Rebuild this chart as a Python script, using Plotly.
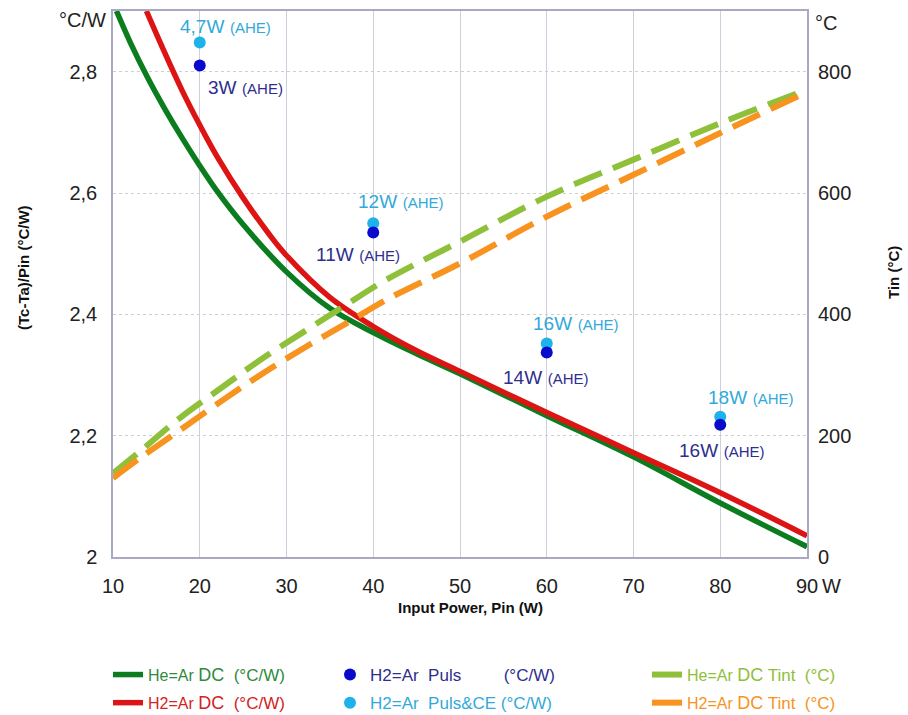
import plotly.graph_objects as go

# ---------------- data ----------------
he_dc_x = [10.4, 12, 14, 16, 18, 20, 22, 25, 30, 35, 40, 45, 50, 60, 70, 80, 90]
he_dc_y = [2.900, 2.848, 2.790, 2.738, 2.690, 2.645, 2.603, 2.548, 2.470, 2.410, 2.370, 2.335,
           2.302, 2.233, 2.165, 2.089, 2.017]

h2_dc_x = [13.85, 16, 18, 20, 22, 25, 28, 30, 35, 40, 45, 50, 60, 70, 80, 90]
h2_dc_y = [2.900, 2.830, 2.768, 2.712, 2.660, 2.592, 2.532, 2.497, 2.428, 2.380, 2.340, 2.306,
           2.238, 2.172, 2.106, 2.035]

tint_x = [10, 13.1, 17.7, 22.7, 27.3, 32.3, 36.9, 41.5, 50, 60, 70, 80, 89.2]
he_tint = [138, 174, 229, 281, 328, 374, 416, 457, 520, 594, 655, 715, 766]
h2_tint = [130, 163, 209, 259, 303, 347, 385, 424, 484, 561, 630, 699, 761]

puls_x = [20, 40, 60, 80]
puls_y = [2.81, 2.535, 2.337, 2.218]
pulsce_y = [2.848, 2.550, 2.352, 2.231]

puls_labels = ["3W", "11W", "14W", "16W"]
pulsce_labels = ["4,7W", "12W", "16W", "18W"]

x_ticks = [10, 20, 30, 40, 50, 60, 70, 80, 90]
y_ticks = [2, 2.2, 2.4, 2.6, 2.8]
y_ticktext = ["2", "2,2", "2,4", "2,6", "2,8"]
y2_ticks = [0, 200, 400, 600, 800]

# ---------------- styles ----------------
GREEN = "#0b7d1f"
RED = "#dd1414"
LGREEN = "#8fc03a"
ORANGE = "#f7931e"
NAVY = "#0a0acc"
LBLUE = "#1db2ea"
NAVY_T = "#2e2e8e"
LBLUE_T = "#32a9da"
GREEN_T = "#2f8a3c"
RED_T = "#d42222"
FONT = "Liberation Sans, Arial, sans-serif"

def lab(parts):
    return "".join(f'<span style="font-size:{s}px">{t}</span>' for t, s in parts)

fig = go.Figure()

fig.add_trace(go.Scatter(
    x=he_dc_x, y=he_dc_y, mode="lines", line=dict(color=GREEN, width=5.5, shape="spline", smoothing=1.0),
    name=lab([("He=Ar ", 16), ("DC", 18), ("\u00a0 (°C/W)", 17)]), legend="legend", legendgroup="a", legendrank=1))
fig.add_trace(go.Scatter(
    x=h2_dc_x, y=h2_dc_y, mode="lines", line=dict(color=RED, width=5.5, shape="spline", smoothing=1.0),
    name=lab([("H2=Ar ", 16), ("DC", 18), ("\u00a0 (°C/W)", 17)]), legend="legend", legendgroup="b", legendrank=2))
fig.add_trace(go.Scatter(
    x=tint_x, y=he_tint, yaxis="y2", mode="lines",
    line=dict(color=LGREEN, width=6, dash="30px,12px", shape="spline", smoothing=1.0),
    name=lab([("He=Ar ", 16), ("DC", 18), (" Tint\u00a0 (°C)", 17)]), legend="legend3", legendgroup="e", legendrank=1))
fig.add_trace(go.Scatter(
    x=tint_x, y=h2_tint, yaxis="y2", mode="lines",
    line=dict(color=ORANGE, width=6, dash="30px,12px", shape="spline", smoothing=1.0),
    name=lab([("H2=Ar ", 16), ("DC", 18), (" Tint\u00a0 (°C)", 17)]), legend="legend3", legendgroup="f", legendrank=2))
fig.add_trace(go.Scatter(
    x=puls_x, y=pulsce_y, mode="markers", marker=dict(color=LBLUE, size=12),
    name=lab([("H2=Ar\u00a0 Puls&CE (°C/W)", 17)]), legend="legend2", legendgroup="d", legendrank=2))
fig.add_trace(go.Scatter(
    x=puls_x, y=puls_y, mode="markers", marker=dict(color=NAVY, size=12),
    name=lab([("H2=Ar\u00a0 Puls\u00a0\u00a0\u00a0\u00a0\u00a0\u00a0\u00a0\u00a0 (°C/W)", 17)]),
    legend="legend2", legendgroup="c", legendrank=1))

# point labels (positions of the text only)
ce_pos = [(23.0, 2.876), (43.1, 2.586), (63.3, 2.386), (83.5, 2.264)]
pu_pos = [(25.3, 2.774), (38.2, 2.500), (59.8, 2.297), (80.2, 2.176)]
for (ax_, ay_), t in zip(ce_pos, pulsce_labels):
    fig.add_annotation(x=ax_, y=ay_, xref="x", yref="y", showarrow=False, xanchor="center", yanchor="middle",
                       text=f'<span style="font-size:19px">{t}</span> <span style="font-size:15px">(AHE)</span>',
                       font=dict(color=LBLUE_T, family=FONT))
for (ax_, ay_), t in zip(pu_pos, puls_labels):
    fig.add_annotation(x=ax_, y=ay_, xref="x", yref="y", showarrow=False, xanchor="center", yanchor="middle",
                       text=f'<span style="font-size:19px">{t}</span> <span style="font-size:15px">(AHE)</span>',
                       font=dict(color=NAVY_T, family=FONT))

# unit labels
W, H = 908, 715
L, R, T, B = 113, 101, 11, 158
pw, ph = W - L - R, H - T - B
def px(xp): return (xp - L) / pw
def py(yp): return (H - B - yp) / ph

fig.add_annotation(x=px(108), y=py(20), xref="paper", yref="paper", text="°C/W", showarrow=False,
                   xanchor="right", yanchor="middle", font=dict(size=20, color="#222", family=FONT))
fig.add_annotation(x=px(813), y=py(23), xref="paper", yref="paper", text="°C", showarrow=False,
                   xanchor="left", yanchor="middle", font=dict(size=20, color="#222", family=FONT))
fig.add_annotation(x=px(820), y=py(586), xref="paper", yref="paper", text="W", showarrow=False,
                   xanchor="left", yanchor="middle", font=dict(size=20, color="#222", family=FONT))
# axis titles
fig.add_annotation(x=px(23), y=py(268), xref="paper", yref="paper", text="<b>(Tc-Ta)/Pin (°C/W)</b>",
                   showarrow=False, textangle=-90, xanchor="center", yanchor="middle",
                   font=dict(size=15, color="#111", family=FONT))
fig.add_annotation(x=px(893), y=py(273), xref="paper", yref="paper", text="<b>Tin (°C)</b>",
                   showarrow=False, textangle=-90, xanchor="center", yanchor="middle",
                   font=dict(size=15, color="#111", family=FONT))
fig.add_annotation(x=px(470), y=py(607), xref="paper", yref="paper", text="<b>Input Power, Pin (W)</b>",
                   showarrow=False, xanchor="center", yanchor="middle",
                   font=dict(size=15, color="#111", family=FONT))

AXC = "#a9a9c4"
LEG_TOP = 657
fig.update_layout(
    width=W, height=H, margin=dict(l=L, r=R, t=T, b=B, autoexpand=False),
    paper_bgcolor="white", plot_bgcolor="white",
    font=dict(family=FONT, size=20, color="#222"),
    showlegend=True,
    xaxis=dict(range=[10, 90], tickvals=x_ticks, ticktext=[str(v) for v in x_ticks],
               showgrid=True, gridcolor="#cdd0dc", gridwidth=1, zeroline=False,
               showline=True, linecolor=AXC, linewidth=1.5, mirror=True,
               ticks="outside", ticklen=10, tickcolor="rgba(0,0,0,0)",
               tickfont=dict(size=20, family=FONT, color="#222")),
    yaxis=dict(range=[2, 2.9], tickvals=y_ticks, ticktext=y_ticktext,
               showgrid=True, gridcolor="#cfcfcf", gridwidth=1, griddash="dot", zeroline=False,
               showline=True, linecolor=AXC, linewidth=1.5, mirror=True,
               ticks="outside", ticklen=10, tickcolor="rgba(0,0,0,0)",
               tickfont=dict(size=20, family=FONT, color="#222")),
    yaxis2=dict(range=[0, 900], tickvals=y2_ticks, overlaying="y", side="right",
                showgrid=False, zeroline=False, showline=False,
                ticks="outside", ticklen=6, tickcolor="rgba(0,0,0,0)",
                tickfont=dict(size=20, family=FONT, color="#222")),
    legend=dict(x=px(108), y=py(LEG_TOP), xanchor="left", yanchor="top", orientation="v",
                traceorder="grouped", tracegroupgap=3, bgcolor="rgba(0,0,0,0)",
                font=dict(size=17, family=FONT, color=GREEN_T)),
    legend2=dict(x=px(330), y=py(LEG_TOP), xanchor="left", yanchor="top", orientation="v",
                 traceorder="grouped", tracegroupgap=3, bgcolor="rgba(0,0,0,0)",
                 font=dict(size=17, family=FONT, color=NAVY_T)),
    legend3=dict(x=px(647), y=py(LEG_TOP), xanchor="left", yanchor="top", orientation="v",
                 traceorder="grouped", tracegroupgap=3, bgcolor="rgba(0,0,0,0)",
                 font=dict(size=17, family=FONT, color=LGREEN)),
)

# per-entry legend text colours
colors = {0: GREEN_T, 1: RED_T, 2: LGREEN, 3: ORANGE, 4: LBLUE_T, 5: NAVY_T}
for i, tr in enumerate(fig.data):
    tr.name = f'<span style="color:{colors[i]}">{tr.name}</span>'

fig.write_html("out.html")
